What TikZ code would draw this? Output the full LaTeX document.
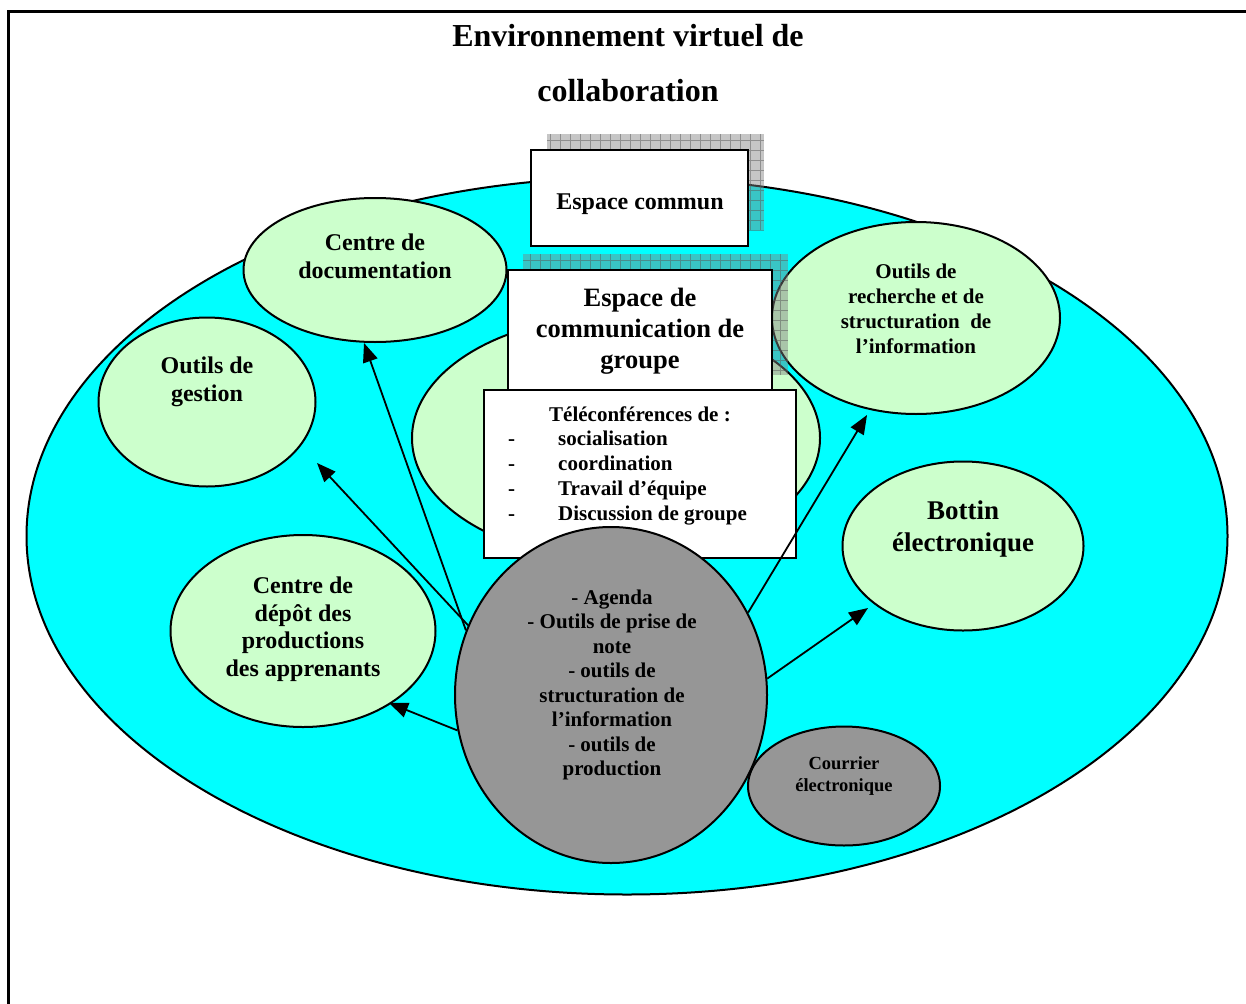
\documentclass[tikz,border=0pt]{standalone}
\usepackage{fontspec}
\setmainfont{Liberation Serif}
\usepackage{tikz}
\usetikzlibrary{shapes.geometric}
\usetikzlibrary{arrows.meta}
\definecolor{vertpale}{HTML}{CCFFCC}
\definecolor{grisbulle}{HTML}{969696}
\definecolor{fondcyan}{HTML}{00FFFF}

\tikzset{
  bulle/.style={ellipse, draw, line width=2pt, fill=vertpale, inner sep=0pt},
  bullegrise/.style={bulle, fill=grisbulle},
  cadre/.style={rectangle, draw, line width=2.6pt, fill=white, inner sep=0pt},
  ombre/.style={fill=gray, fill opacity=0.45},
  quadrillage/.style={draw=gray!70!black, line width=0.6pt, draw opacity=0.5},
  texte/.style={align=center, inner sep=0pt},
  fleche/.style={line width=1.8pt, -{Triangle[length=19pt,width=15pt]}},
}

\newcommand{\corps}[2]{\fontsize{#1}{#2}\selectfont\bfseries}

\begin{document}
\begin{tikzpicture}[x=1pt,y=-1pt]
  \useasboundingbox (0,0) rectangle (1246,1003);

  % page frame
  \draw[line width=3pt, line join=miter] (8,1012) -- (8,12) -- (1254,12);

  % title
  \node[texte, font=\corps{32}{55}] (titre) at (628,63) {Environnement virtuel de\\collaboration};

  % the environment
  \node[bulle, fill=fondcyan, minimum width=1201, minimum height=717] (env) at (627,536) {};

  % shared space
  \fill[ombre] (547,134) rectangle (764,230);
  \draw[quadrillage, step=10pt] (547,134) grid (764,230);
  \node[cadre, minimum width=217, minimum height=96] (commun) at (639.5,198) {};
  \node[texte, font=\corps{24}{28}] (communT) at (640,204) {Espace commun};

  % tools around
  \node[bulle, minimum width=263, minimum height=144] (doc) at (375,270) {};
  \node[bulle, minimum width=217, minimum height=169] (gestion) at (207,402) {};
  \node[bulle, minimum width=265, minimum height=192] (depot) at (303,631) {};
  \node[bulle, minimum width=288, minimum height=192] (recherche) at (916,318) {};
  \node[bulle, minimum width=241, minimum height=169] (bottin) at (963,546) {};

  % group communication
  \node[bulle, minimum width=408, minimum height=244] (teleBulle) at (616,438) {};
  \fill[ombre] (523,254) rectangle (788,375);
  \draw[quadrillage, step=10pt] (523,254) grid (788,375);
  \node[cadre, minimum width=264, minimum height=121] (comm) at (640,330.5) {};
  \node[texte, font=\corps{26.5}{31}] (commT) at (640,331) {Espace de\\communication de\\groupe};

  \node[cadre, minimum width=312, minimum height=168] (tele) at (640,474) {};
  \node[texte, font=\corps{21}{25}] (teleTitre) at (640,414) {Téléconférences de :};
  \foreach \y/\t [count=\i] in {438/socialisation, 463/coordination, 488/Travail d’équipe, 513/Discussion de groupe} {
    \node[texte, anchor=base west, font=\corps{21}{25}] (tiret\i) at (508,\y+7) {-};
    \node[texte, anchor=base west, font=\corps{21}{25}] (item\i) at (558,\y+7) {\t};
  }

  % personal tools
  \node[bullegrise, minimum width=312, minimum height=336] (outils) at (611,695) {};
  \node[bullegrise, minimum width=192, minimum height=119] (courrier) at (844,786) {};

  % arrows
  \coordinate (pGestion) at (317,463);
  \coordinate (pDoc) at (364,343);
  \coordinate (pDepot) at (389,703);
  \coordinate (pRecherche) at (867,415);
  \coordinate (pBottin) at (868,608);
  \draw[fleche] (outils.154) -- (pGestion);
  \draw[fleche] (outils.156) -- (pDoc);
  \draw[fleche] (outils.193) -- (pDepot);
  \draw[fleche] (outils.31.4) -- (pRecherche);
  \draw[fleche] (outils.6.2) -- (pBottin);

  % labels
  \node[texte, font=\corps{24}{28}] (docT) at (375,256) {Centre de\\documentation};
  \node[texte, font=\corps{24}{28}] (gestionT) at (207,382) {Outils de\\gestion};
  \node[texte, font=\corps{24}{27.5}] (depotT) at (303,629) {Centre de\\dépôt des\\productions\\des apprenants};
  \node[texte, font=\corps{21}{25}] (rechercheT) at (916,308.5) {Outils de\\recherche et de\\structuration~ de\\l’information};
  \node[texte, font=\corps{27}{32}] (bottinT) at (963,529) {Bottin\\électronique};
  \node[texte, font=\corps{21}{24.5}] (outilsT) at (612,685) {- Agenda\\- Outils de prise de\\note\\- outils de\\structuration de\\l’information\\- outils de\\production};
  \node[texte, font=\corps{18.5}{22}] (courrierT) at (844,776) {Courrier\\électronique};
\end{tikzpicture}
\end{document}
